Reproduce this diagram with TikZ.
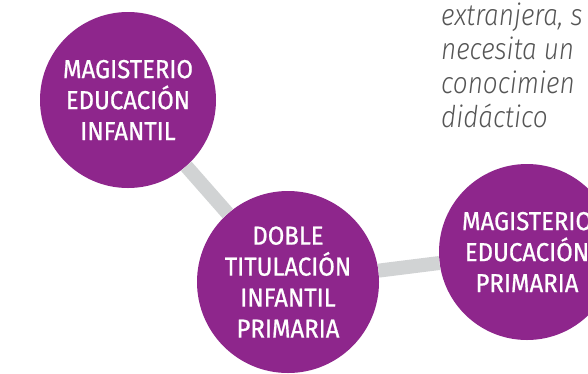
\documentclass[tikz,border=0pt]{standalone}
\usepackage{fontspec}
\setmainfont{Fira Sans}
\newfontfamily\notafont{Fira Sans Light}[ItalicFont={Fira Sans Light Italic},FakeStretch=0.87]
\newfontfamily\gradofont{Fira Sans}[FakeStretch=0.92,FakeBold=0.8]
\definecolor{morado}{RGB}{142,38,140}
\definecolor{gris}{RGB}{209,211,212}
\definecolor{textogris}{RGB}{85,85,85}

\begin{document}
\begin{tikzpicture}[x=1pt,y=-1pt,
    grado/.style={circle,fill=morado,text=white,inner sep=0pt,align=center,font=\gradofont\fontsize{26}{31}\selectfont},
    enlace/.style={draw=gris,line width=14pt},
    nota/.style={text=textogris,anchor=base west,inner sep=0pt,font=\notafont\itshape\fontsize{30}{34}\selectfont}]
    \useasboundingbox (0,0) rectangle (588,373);
    \clip (0,0) rectangle (588,373);
    \node[grado,minimum size=176pt]   (infantil)  at (128,100)  {MAGISTERIO\\EDUCACIÓN\\INFANTIL};
    \node[grado,minimum size=182pt]   (doble)     at (288,282)  {DOBLE\\TITULACIÓN\\INFANTIL\\PRIMARIA};
    \node[grado,minimum size=176pt]   (primaria)  at (527,252)  {MAGISTERIO\\EDUCACIÓN\\PRIMARIA};

    \path[enlace]  (infantil)  edge  (doble)
                   (doble)     edge  (primaria);

    \node[nota] (l1) at (441,25.5)  {extranjera, s};
    \node[nota] (l2) at (441,59.5)  {necesita un};
    \node[nota] (l3) at (441,93)    {conocimien};
    \node[nota] (l4) at (441,127)   {didáctico};
\end{tikzpicture}
\end{document}
